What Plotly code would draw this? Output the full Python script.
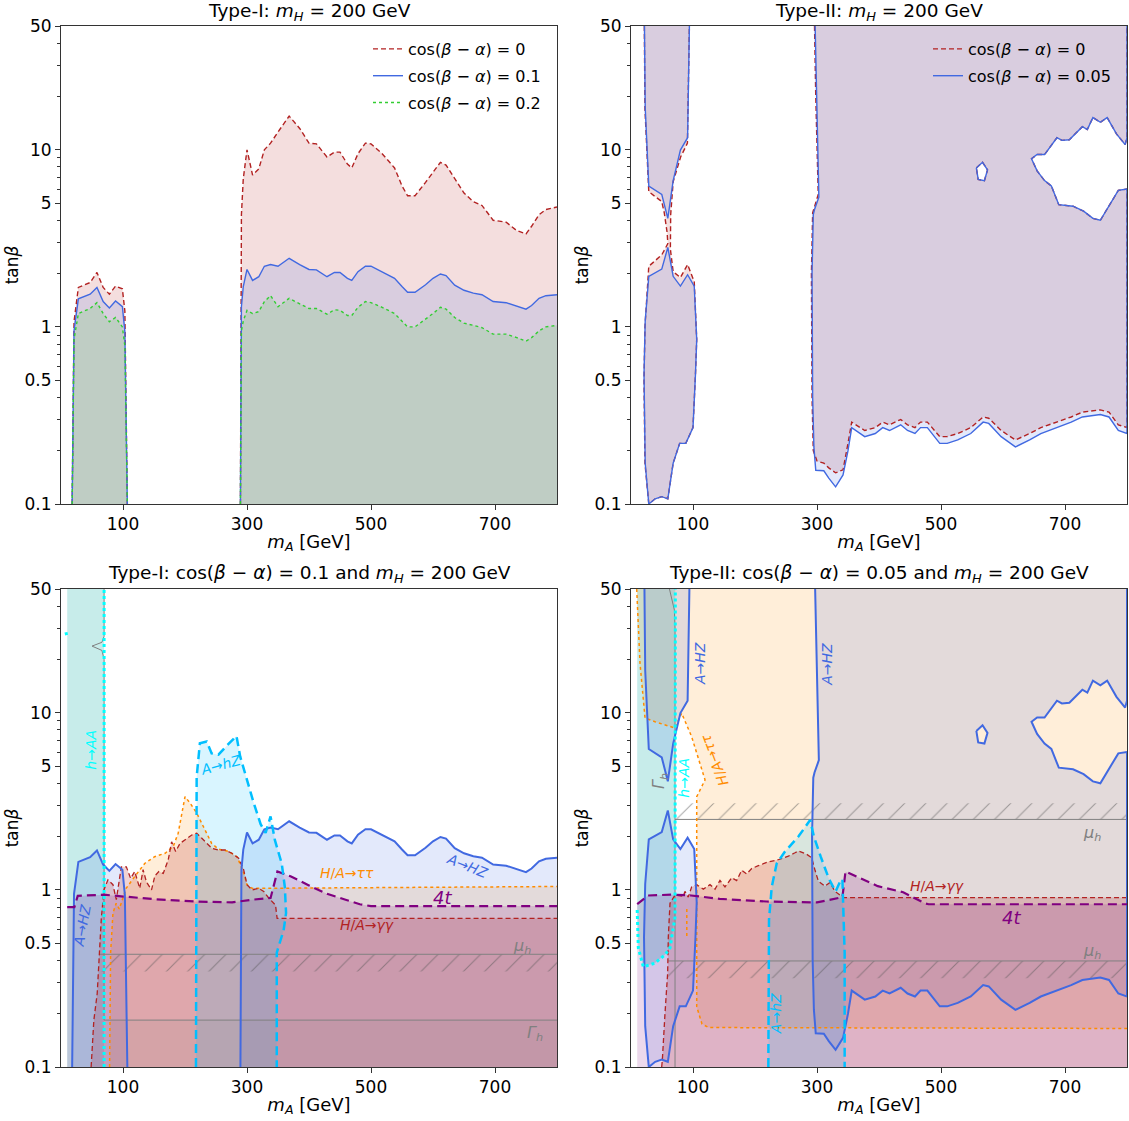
import numpy as np
import plotly.graph_objects as go

# ================= DATA =================
# --- Type-I (top-left): A->HZ limits for cos(b-a) = 0, 0.1, 0.2 ---
mA_I_low = [18, 21, 28, 47, 58, 68, 78, 88, 99, 103, 107]
tb_I_low_c00 = [0.1, 1.07, 1.67, 1.78, 2.03, 1.67, 1.53, 1.70, 1.64, 1.23, 0.1]
tb_I_low_c01 = [0.1, 0.95, 1.44, 1.53, 1.67, 1.39, 1.28, 1.40, 1.30, 0.94, 0.1]
tb_I_low_c02 = [0.1, 0.85, 1.19, 1.27, 1.37, 1.19, 1.07, 1.13, 1.00, 0.78, 0.1]

mA_I_high = [289.4, 291, 294, 300, 309, 319, 328, 338, 350, 368, 385, 400, 412, 429, 441, 450,
             462, 469, 479, 491, 500, 518, 538, 550, 559, 571, 588, 600, 612, 621, 635, 650,
             665, 679, 697, 718, 735, 750, 759, 771, 782, 800]
tb_I_high_c00 = [0.1, 4.3, 6.87, 10.0, 7.2, 7.8, 10.0, 10.9, 12.6, 15.5, 13.2, 10.9, 10.8, 9.1, 9.7, 9.7,
                 8.3, 7.9, 9.5, 10.9, 10.8, 9.5, 7.9, 6.25, 5.5, 5.5, 6.55, 7.5, 8.5, 8.2, 6.9, 5.7,
                 5.1, 4.85, 4.0, 3.9, 3.5, 3.35, 3.7, 4.3, 4.6, 4.75]
tb_I_high_c01 = [0.1, 1.3, 1.69, 2.11, 1.83, 1.92, 2.2, 2.25, 2.2, 2.44, 2.25, 2.11, 2.1, 1.92, 2.03, 2.03,
                 1.88, 1.83, 2.05, 2.2, 2.2, 2.05, 1.88, 1.69, 1.57, 1.57, 1.73, 1.88, 1.99, 1.95, 1.72, 1.61,
                 1.55, 1.52, 1.39, 1.37, 1.31, 1.26, 1.32, 1.45, 1.50, 1.52]
tb_I_high_c02 = [0.1, 0.95, 1.08, 1.24, 1.19, 1.22, 1.39, 1.50, 1.30, 1.45, 1.35, 1.27, 1.27, 1.18, 1.25, 1.24,
                 1.16, 1.16, 1.29, 1.39, 1.37, 1.29, 1.19, 1.08, 1.0, 1.0, 1.10, 1.19, 1.29, 1.26, 1.13, 1.05,
                 1.02, 0.99, 0.91, 0.91, 0.87, 0.83, 0.87, 0.95, 1.0, 1.02]

# --- Type-II (top-right): A->HZ allowed-region boundaries ---
mA_II_up_c005 = [21.7, 22.9, 28.7, 49.6, 59.4, 68.0, 79.7, 91.3, 94.2]
tb_II_up_c005 = [50, 17.4, 6.24, 5.6, 4.1, 6.7, 9.96, 11.7, 50]
mA_II_lo_c005 = [59.4, 49.6, 28.7, 22.9, 21.0, 22.9, 28.7, 39.0, 49.6, 59.4, 68.0, 78.5, 88.4, 100.0,
                 104.0, 106.0, 102.0, 91.3, 79.7, 68.0, 59.4]
tb_II_lo_c005 = [2.81, 2.12, 1.93, 1.08, 0.54, 0.17, 0.1, 0.107, 0.11, 0.107, 0.17, 0.22, 0.22, 0.27,
                 0.54, 0.85, 1.7, 1.97, 1.70, 1.93, 2.81]
mA_II_left_c0 = [21.5, 22.5, 28.7, 49.6, 53.7, 58.3, 59.4, 49.6, 28.7, 22.5, 21.0, 22.5, 28.7, 39.0, 49.6,
                 59.4, 68.0, 78.5, 88.4, 100.0, 104.0, 106.0, 102.0, 91.3, 79.7, 68.0, 63.5, 64.0, 68.0,
                 80.0, 91.0, 94.2]
tb_II_left_c0 = [50, 17.0, 5.8, 5.1, 4.4, 3.4, 2.95, 2.55, 2.2, 1.0, 0.5, 0.17, 0.1, 0.107, 0.11,
                 0.107, 0.17, 0.22, 0.22, 0.27, 0.54, 0.85, 1.8, 2.25, 1.9, 2.05, 2.75, 4.3, 6.6,
                 9.1, 10.9, 50]
mA_II_right_c005 = [297, 299, 303, 296, 294, 292, 292, 293, 295, 298, 311, 319, 330, 342, 350, 356, 377,
                    394, 406, 417, 435, 446, 458, 467, 478, 498, 510, 527, 548, 568, 577, 597, 620, 643,
                    661, 687, 710, 728, 757, 771, 786, 800]
tb_II_right_c005 = [50, 20, 5.4, 4.6, 4.3, 2.0, 0.68, 0.4, 0.21, 0.155, 0.154, 0.14, 0.125, 0.146, 0.2,
                    0.27, 0.24, 0.25, 0.27, 0.26, 0.28, 0.26, 0.25, 0.27, 0.27, 0.22, 0.22, 0.23, 0.25,
                    0.29, 0.285, 0.24, 0.21, 0.23, 0.25, 0.27, 0.29, 0.31, 0.32, 0.31, 0.26, 0.25]
mA_II_right_c0 = [296, 298, 302, 295, 293, 291, 291, 292, 294, 300, 311, 319, 330, 342, 350, 356, 377,
                  394, 406, 417, 435, 446, 458, 467, 478, 498, 510, 527, 548, 568, 577, 597, 620, 643,
                  661, 687, 710, 728, 757, 771, 786, 800]
tb_II_right_c0 = [50, 20, 5.6, 4.7, 4.4, 2.0, 0.68, 0.4, 0.2, 0.175, 0.17, 0.16, 0.15, 0.156, 0.22,
                  0.29, 0.26, 0.27, 0.29, 0.28, 0.30, 0.28, 0.27, 0.29, 0.29, 0.24, 0.24, 0.25, 0.27,
                  0.31, 0.305, 0.26, 0.23, 0.25, 0.27, 0.29, 0.31, 0.33, 0.34, 0.33, 0.28, 0.27]
mA_II_notch = [800, 786, 771, 757, 745, 730, 713, 690, 678, 667, 655, 646, 655, 667, 687, 695, 707,
               728, 736, 745, 757, 768, 783, 797, 800, 800]
tb_II_notch = [6.0, 5.9, 4.8, 4.0, 4.1, 4.5, 4.8, 4.9, 6.25, 6.7, 7.6, 8.9, 9.4, 9.4, 11.7, 11.3, 11.4,
               13.5, 13.0, 15.2, 14.3, 15.2, 12.3, 10.7, 11.7, 50]
mA_II_hole = [557, 567, 575, 570, 560, 557]
tb_II_hole = [7.9, 8.5, 7.7, 6.7, 6.8, 7.9]

# --- Type-I, cos=0.1 (bottom-left): other constraints ---
mA_BL_hAA = [10, 69.5, 69.5, 10]
tb_BL_hAA = [0.1, 0.1, 50, 50]
mA_BL_tautau = [78.4, 80, 83.8, 89, 94, 100, 105, 119, 135, 151, 168, 181, 189, 200, 208, 219, 232,
                243, 254, 270, 284, 295, 300, 308, 800]
tb_BL_tautau = [0.1, 0.44, 0.74, 0.84, 0.78, 0.92, 1.02, 1.19, 1.41, 1.54, 1.61, 1.76, 2.09, 3.36, 3.1,
                2.71, 2.19, 1.83, 1.70, 1.65, 1.54, 1.24, 1.07, 1.02, 1.045]
mA_BL_gaga = [48.6, 53, 58.4, 61, 64.9, 69.2, 75.7, 83.8, 89.2, 97.3, 105.4, 112.4, 118.9, 127, 132.4,
              137.8, 146, 151.4, 157.8, 164.9, 173, 178.4, 184.9, 191.9, 201, 210.8, 218.9, 229.7, 243.2,
              254, 264.9, 275.7, 286.5, 294.6, 300, 308.1, 318.9, 327, 335, 346, 348.6, 800]
tb_BL_gaga = [0.1, 0.184, 0.26, 0.385, 0.68, 1.0, 1.14, 1.07, 0.88, 1.35, 1.35, 1.16, 1.27, 1.02, 1.30,
              1.11, 1.0, 1.2, 1.27, 1.24, 1.48, 1.87, 1.65, 1.83, 1.92, 2.04, 2.09, 1.92, 1.72,
              1.68, 1.68, 1.61, 1.51, 1.30, 1.07, 1.0, 1.02, 0.98, 0.90, 0.82, 0.69, 0.69]
mA_BL_4t = [10, 21.6, 27, 69, 97, 151, 216, 276, 308, 338, 349, 371, 400, 429, 459, 482, 500, 800]
tb_BL_4t = [0.80, 0.80, 0.925, 0.94, 0.92, 0.886, 0.86, 0.85, 0.88, 0.90, 1.27, 1.19, 1.06, 0.95, 0.88,
            0.83, 0.81, 0.81]
mA_BL_AhZ = [217.7, 218.8, 224, 235, 243, 254, 267, 283, 289, 300, 311, 322, 330, 338, 345, 356, 361,
             363, 359, 351, 348, 348]
tb_BL_AhZ = [0.1, 4.35, 6.73, 6.88, 5.9, 5.8, 6.5, 7.4, 5.67, 4.16, 3.08, 2.35, 2.1, 2.6, 1.91, 1.41,
             1.04, 0.74, 0.59, 0.48, 0.44, 0.1]
mA_BL_Gamma = [69.5, 69.5, 66, 50, 66, 69.5, 69.5, 800]
tb_BL_Gamma = [50, 27, 25, 23.8, 22.5, 20, 0.184, 0.184]
mA_BL_muh = [62, 800]
tb_BL_muh_lo, tb_BL_muh_hi = 0.346, 0.433

# --- Type-II, cos=0.05 (bottom-right): other constraints ---
mA_BR_hAA = [10, 10, 11.8, 19.9, 38.7, 54.8, 62.9, 71, 71.5]
tb_BR_hAA = [50, 0.77, 0.47, 0.368, 0.386, 0.43, 0.47, 0.70, 50]
mA_BR_tautau = [9.2, 14.5, 22.6, 38.7, 71, 81.7, 97.8, 119.4, 106, 106, 106, 114.5, 125, 800, 800]
tb_BR_tautau = [50, 19.1, 9.35, 8.9, 8.2, 9.95, 7.33, 4.18, 3.36, 2.29, 0.219, 0.175, 0.167, 0.165, 50]
mA_BR_tautau_frag = [90, 90]
tb_BR_tautau_frag = [0.78, 0.54]
mA_BR_gaga = [49.5, 50.6, 54.8, 59.1, 60.2, 62.9, 71, 84.4, 87, 92.4, 97.8, 105.9, 116.7, 127.4, 135.5,
              143.5, 151.6, 162.4, 170.4, 178.5, 186.6, 194.6, 205.4, 221.5, 237.6, 253.8, 264.5, 269.9,
              283.3, 291.4, 296.8, 302.2, 312.9, 321, 329, 334.4, 342.5, 800]
tb_BR_gaga = [0.1, 0.11, 0.20, 0.338, 0.545, 0.84, 0.936, 0.92, 0.98, 0.91, 1.04, 1.07, 1.01, 1.07, 1.01,
              1.13, 1.04, 1.17, 1.13, 1.29, 1.23, 1.32, 1.37, 1.44, 1.48, 1.55, 1.62, 1.66,
              1.59, 1.52, 1.29, 1.12, 1.05, 1.10, 0.98, 0.95, 0.905, 0.905]
mA_BR_4t = [10, 27.5, 68, 97, 143, 219, 300, 341, 346, 398, 439, 474, 480, 800]
tb_BR_4t = [0.83, 0.93, 0.94, 0.93, 0.89, 0.86, 0.85, 0.91, 1.27, 1.05, 0.97, 0.84, 0.83, 0.83]
mA_BR_AhZ = [221.5, 222.6, 227, 235, 248, 270, 289, 295, 306, 319, 330, 337, 341, 343, 344.6, 344.6]
tb_BR_AhZ = [0.1, 0.68, 1.04, 1.41, 1.64, 2.0, 2.48, 2.0, 1.54, 1.16, 0.98, 1.11, 1.15, 0.68, 0.44, 0.1]
mA_BR_Gamma = [62, 66, 70, 71, 71]
tb_BR_Gamma = [50, 44, 38, 30, 0.1]
mA_BR_muh_lo = [60, 800]
tb_BR_muh_lo = (0.317, 0.397)
mA_BR_muh_hi = [71, 800]
tb_BR_muh_hi = (2.50, 3.08)

# ================= STYLE =================
RED, BLUE, GREEN = '#b22222', '#4169e1', '#32cd32'
ORANGE, PURPLE, SKY, CYAN, GRAY = '#ff8c00', '#800080', '#00bfff', '#00ffff', '#808080'
F_RED = 'rgba(178,34,34,0.15)'
F_BLUE = 'rgba(65,105,225,0.15)'
F_GREEN = 'rgba(50,205,50,0.15)'
F_RED2 = 'rgba(178,34,34,0.20)'
F_ORANGE = 'rgba(255,140,0,0.15)'
F_PURPLE = 'rgba(128,0,128,0.15)'
F_SKY = 'rgba(0,191,255,0.15)'
F_TEAL = 'rgba(32,178,170,0.25)'
F_GRAY = 'rgba(128,128,128,0.10)'
FONT = 'DejaVu Sans'
BASE = 0.1

fig = go.Figure()


def area(m, t):
    lt = np.log10(t)
    return 0.5 * np.sum(np.array(m) * np.roll(lt, -1) - np.roll(m, -1) * lt)


def closed_base(m, t):
    mm = list(m)
    tt = list(t)
    if tt[-1] != BASE:
        mm.append(mm[-1]); tt.append(BASE)
    if tt[0] != BASE:
        mm.insert(0, mm[0]); tt.insert(0, BASE)
    return mm, tt


def fill(m, t, ax, color, holes=None, pattern=None):
    mm, tt = list(m), list(t)
    if holes:
        a0 = area(mm, tt)
        for hm, ht in holes:
            hm, ht = list(hm), list(ht)
            if np.sign(area(hm, ht)) == np.sign(a0):
                hm, ht = hm[::-1], ht[::-1]
            mm += [None] + hm
            tt += [None] + ht
    kw = dict(x=mm, y=tt, mode='lines', fill='toself', fillcolor=color, line=dict(width=0),
              hoverinfo='skip', showlegend=False, xaxis='x' + ax, yaxis='y' + ax)
    if pattern is not None:
        kw['fillpattern'] = pattern
    fig.add_trace(go.Scatter(**kw))


def line(m, t, ax, color, width, dash='solid', name=None, legend=None):
    fig.add_trace(go.Scatter(x=m, y=t, mode='lines', line=dict(color=color, width=width, dash=dash),
                             hoverinfo='skip', showlegend=name is not None, name=name,
                             legend=legend, xaxis='x' + ax, yaxis='y' + ax,
                             legendgroup=name))


def label(ax, m, t, text, color, size=14, angle=0):
    fig.add_annotation(x=m, y=np.log10(t), xref='x' + ax, yref='y' + ax, text=text, showarrow=False,
                       textangle=angle, font=dict(family=FONT, size=size, color=color))


DASH_S = '5px,3px'
DASH_L = '9px,5px'
leg0 = 'cos(<i>β</i> − <i>α</i>) = 0'

# ---------------- TOP-LEFT ----------------
fill(mA_I_low, tb_I_low_c00, '', F_RED)
fill(mA_I_high + [800], tb_I_high_c00 + [BASE], '', F_RED)
fill(mA_I_low, tb_I_low_c01, '', F_BLUE)
fill(mA_I_high + [800], tb_I_high_c01 + [BASE], '', F_BLUE)
fill(mA_I_low, tb_I_low_c02, '', F_GREEN)
fill(mA_I_high + [800], tb_I_high_c02 + [BASE], '', F_GREEN)
line(mA_I_low + [None] + mA_I_high, tb_I_low_c00 + [None] + tb_I_high_c00, '', RED, 1.4, DASH_S,
     name=leg0, legend='legend')
line(mA_I_low + [None] + mA_I_high, tb_I_low_c01 + [None] + tb_I_high_c01, '', BLUE, 1.4,
     name='cos(<i>β</i> − <i>α</i>) = 0.1', legend='legend')
line(mA_I_low + [None] + mA_I_high, tb_I_low_c02 + [None] + tb_I_high_c02, '', GREEN, 1.4, 'dot',
     name='cos(<i>β</i> − <i>α</i>) = 0.2', legend='legend')

# ---------------- TOP-RIGHT ----------------
right_c0_m = mA_II_right_c0 + mA_II_notch
right_c0_t = tb_II_right_c0 + tb_II_notch
right_c5_m = mA_II_right_c005 + mA_II_notch
right_c5_t = tb_II_right_c005 + tb_II_notch
fill(mA_II_left_c0, tb_II_left_c0, '2', F_RED)
fill(right_c0_m, right_c0_t, '2', F_RED, holes=[(mA_II_hole, tb_II_hole)])
fill(mA_II_up_c005, tb_II_up_c005, '2', F_BLUE)
fill(mA_II_lo_c005, tb_II_lo_c005, '2', F_BLUE)
fill(right_c5_m, right_c5_t, '2', F_BLUE, holes=[(mA_II_hole, tb_II_hole)])
line(mA_II_left_c0 + [None] + right_c0_m + [None] + mA_II_hole,
     tb_II_left_c0 + [None] + right_c0_t + [None] + tb_II_hole, '2', RED, 1.4, DASH_S,
     name=leg0, legend='legend2')
line(mA_II_up_c005 + [None] + mA_II_lo_c005 + [None] + right_c5_m + [None] + mA_II_hole,
     tb_II_up_c005 + [None] + tb_II_lo_c005 + [None] + right_c5_t + [None] + tb_II_hole, '2', BLUE, 1.4,
     name='cos(<i>β</i> − <i>α</i>) = 0.05', legend='legend2')

# ---------------- BOTTOM-LEFT ----------------
fill(mA_BL_hAA, tb_BL_hAA, '3', F_TEAL)
fill(*closed_base(mA_BL_tautau, tb_BL_tautau), '3', F_ORANGE)
fill(mA_I_low, tb_I_low_c01, '3', F_BLUE)
fill(mA_I_high + [800], tb_I_high_c01 + [BASE], '3', F_BLUE)
fill(*closed_base(mA_BL_gaga, tb_BL_gaga), '3', F_RED2)
fill(*closed_base(mA_BL_4t, tb_BL_4t), '3', F_PURPLE)
fill(mA_BL_AhZ, tb_BL_AhZ, '3', F_SKY)
fill([69.5, 800, 800, 69.5], [BASE, BASE, 0.184, 0.184], '3', F_GRAY)
hatch = dict(shape='/', fgcolor='#555555', bgcolor='rgba(0,0,0,0)', fillmode='overlay', size=15,
             solidity=0.07)
fill([mA_BL_muh[0], mA_BL_muh[1], mA_BL_muh[1], mA_BL_muh[0]],
     [tb_BL_muh_lo, tb_BL_muh_lo, tb_BL_muh_hi, tb_BL_muh_hi], '3', 'rgba(0,0,0,0)', pattern=hatch)
line(mA_BL_Gamma, tb_BL_Gamma, '3', GRAY, 1)
line(mA_BL_muh, [tb_BL_muh_hi, tb_BL_muh_hi], '3', GRAY, 1)
line(mA_BL_tautau, tb_BL_tautau, '3', ORANGE, 1.5, 'dot')
line(mA_BL_gaga, tb_BL_gaga, '3', RED, 1.3, DASH_S)
line(mA_I_low + [None] + mA_I_high, tb_I_low_c01 + [None] + tb_I_high_c01, '3', BLUE, 2)
line(mA_BL_4t, tb_BL_4t, '3', PURPLE, 2.2, DASH_L)
line(mA_BL_AhZ, tb_BL_AhZ, '3', SKY, 2.5, DASH_L)
line([69.5, 69.5], [BASE, 50], '3', CYAN, 3, 'dot')
line([8, 9.5], [28.5, 27.0], '3', CYAN, 3, 'dot')
label('3', 47, 6.2, '<i>h</i>→<i>AA</i>', CYAN, 14, -90)
label('3', 257, 5.1, '<i>A</i>→<i>hZ</i>', SKY, 14, -15)
label('3', 35, 0.63, '<i>A</i>→<i>HZ</i>', BLUE, 14, -80)
label('3', 656, 1.37, '<i>A</i>→<i>HZ</i>', BLUE, 14, 22)
label('3', 462, 1.25, '<i>H</i>/<i>A</i>→<i>ττ</i>', ORANGE, 14)
label('3', 615, 0.91, '<i>4t</i>', PURPLE, 18)
label('3', 494, 0.63, '<i>H</i>/<i>A</i>→<i>γγ</i>', RED, 14)
label('3', 744, 0.48, '<i>μ<sub>h</sub></i>', GRAY, 16)
label('3', 765, 0.155, '<i>Γ<sub>h</sub></i>', GRAY, 16)

# ---------------- BOTTOM-RIGHT ----------------
fill(mA_BR_hAA, tb_BR_hAA, '4', F_TEAL)
fill(mA_BR_tautau, tb_BR_tautau, '4', F_ORANGE)
fill(mA_II_up_c005, tb_II_up_c005, '4', F_BLUE)
fill(mA_II_lo_c005, tb_II_lo_c005, '4', F_BLUE)
fill(right_c5_m, right_c5_t, '4', F_BLUE, holes=[(mA_II_hole, tb_II_hole)])
fill(*closed_base(mA_BR_gaga, tb_BR_gaga), '4', F_RED2)
fill(*closed_base(mA_BR_4t, tb_BR_4t), '4', F_PURPLE)
fill(mA_BR_AhZ, tb_BR_AhZ, '4', F_SKY)
fill([mA_BR_muh_lo[0], 800, 800, mA_BR_muh_lo[0]],
     [tb_BR_muh_lo[0], tb_BR_muh_lo[0], tb_BR_muh_lo[1], tb_BR_muh_lo[1]], '4', 'rgba(0,0,0,0)', pattern=hatch)
fill([mA_BR_muh_hi[0], 800, 800, mA_BR_muh_hi[0]],
     [tb_BR_muh_hi[0], tb_BR_muh_hi[0], tb_BR_muh_hi[1], tb_BR_muh_hi[1]], '4', 'rgba(0,0,0,0)', pattern=hatch)
line(mA_BR_Gamma, tb_BR_Gamma, '4', GRAY, 1)
line(mA_BR_muh_lo, [tb_BR_muh_lo[1]] * 2, '4', GRAY, 1)
line(mA_BR_muh_hi, [tb_BR_muh_hi[0]] * 2, '4', GRAY, 1)
line(mA_BR_tautau[:-1] + [None] + mA_BR_tautau_frag, tb_BR_tautau[:-1] + [None] + tb_BR_tautau_frag,
     '4', ORANGE, 1.5, 'dot')
line(mA_BR_gaga, tb_BR_gaga, '4', RED, 1.3, DASH_S)
line(mA_II_up_c005 + [None] + mA_II_lo_c005 + [None] + right_c5_m + [None] + mA_II_hole,
     tb_II_up_c005 + [None] + tb_II_lo_c005 + [None] + right_c5_t + [None] + tb_II_hole, '4', BLUE, 2)
line(mA_BR_4t, tb_BR_4t, '4', PURPLE, 2.2, DASH_L)
line(mA_BR_AhZ, tb_BR_AhZ, '4', SKY, 2.5, DASH_L)
line(mA_BR_hAA[1:], tb_BR_hAA[1:], '4', CYAN, 3, 'dot')
label('4', 111.6, 18.9, '<i>A</i>→<i>HZ</i>', BLUE, 14, -90)
label('4', 316, 18.9, '<i>A</i>→<i>HZ</i>', BLUE, 14, -90)
label('4', 135, 5.4, '<i>H</i>/<i>A</i>→<i>ττ</i>', ORANGE, 14, -111)
label('4', 85.5, 4.3, '<i>h</i>→<i>AA</i>', CYAN, 14, -90)
label('4', 46, 4.1, '<i>Γ<sub>h</sub></i>', GRAY, 16, -90)
label('4', 743, 2.07, '<i>μ<sub>h</sub></i>', GRAY, 16)
label('4', 494, 1.05, '<i>H</i>/<i>A</i>→<i>γγ</i>', RED, 14)
label('4', 613, 0.70, '<i>4t</i>', PURPLE, 18)
label('4', 743, 0.45, '<i>μ<sub>h</sub></i>', GRAY, 16)
label('4', 233, 0.2, '<i>A</i>→<i>hZ</i>', SKY, 14, -90)

# ================= LAYOUT =================
W, H = 1129, 1121
xdom = [[61 / W, 557 / W], [631 / W, 1127 / W]]
ydom = [[1 - 504 / H, 1 - 26 / H], [1 - 1067 / H, 1 - 589 / H]]
minor_vals = [0.2, 0.3, 0.4, 0.6, 0.7, 0.8, 0.9, 2, 3, 4, 6, 7, 8, 9, 20, 30, 40]
axis_common = dict(showline=True, mirror=True, linecolor='#333333', linewidth=1, showgrid=False,
                   zeroline=False, ticks='outside', ticklen=5, tickwidth=1, tickcolor='#333333',
                   automargin=False, tickfont=dict(family=FONT, size=17, color='black'))
layout_axes = {}
for i, (xi, yi) in enumerate([(0, 0), (1, 0), (0, 1), (1, 1)]):
    sfx = '' if i == 0 else str(i + 1)
    layout_axes['xaxis' + sfx] = dict(axis_common, domain=xdom[xi], range=[0, 800], tickvals=[100, 300, 500, 700],
                                      anchor='y' + sfx,
                                      title=dict(text='<i>m<sub>A</sub></i> [GeV]', standoff=1,
                                                 font=dict(family=FONT, size=18, color='black')))
    layout_axes['yaxis' + sfx] = dict(axis_common, domain=ydom[yi], type='log', range=[-1, np.log10(50)],
                                      tickvals=[0.1, 0.5, 1, 5, 10, 50],
                                      ticktext=['0.1', '0.5', '1', '5', '10', '50'],
                                      minor=dict(tickvals=minor_vals, ticks='outside', ticklen=3,
                                                 tickcolor='#333333'),
                                      anchor='x' + sfx,
                                      title=dict(text='tan<i>β</i>', standoff=1,
                                                 font=dict(family=FONT, size=17, color='black')))

fig.update_layout(
    width=W, height=H, autosize=False, margin=dict(l=0, r=0, t=0, b=0, pad=0, autoexpand=False),
    paper_bgcolor='white', plot_bgcolor='white',
    font=dict(family=FONT, size=16, color='black'),
    legend=dict(x=546 / W, y=1 - 32 / H, xanchor='right', yanchor='top', bgcolor='rgba(255,255,255,0)',
                font=dict(family=FONT, size=16), tracegroupgap=3, traceorder='grouped'),
    legend2=dict(x=1116 / W, y=1 - 32 / H, xanchor='right', yanchor='top', bgcolor='rgba(255,255,255,0)',
                 font=dict(family=FONT, size=16), tracegroupgap=3, traceorder='grouped'),
    **layout_axes,
)

titles = [
    ((61 + 557) / 2 / W, 1 - 12 / H, 'Type-I: <i>m<sub>H</sub></i> = 200 GeV'),
    ((631 + 1127) / 2 / W, 1 - 12 / H, 'Type-II: <i>m<sub>H</sub></i> = 200 GeV'),
    ((61 + 557) / 2 / W, 1 - 574 / H, 'Type-I: cos(<i>β</i> − <i>α</i>) = 0.1 and <i>m<sub>H</sub></i> = 200 GeV'),
    ((631 + 1127) / 2 / W, 1 - 574 / H, 'Type-II: cos(<i>β</i> − <i>α</i>) = 0.05 and <i>m<sub>H</sub></i> = 200 GeV'),
]
for x, y, txt in titles:
    fig.add_annotation(x=x, y=y, xref='paper', yref='paper', text=txt, showarrow=False,
                       xanchor='center', yanchor='middle', font=dict(family=FONT, size=18.5, color='black'))

fig.write_html('out.html', config={'displayModeBar': False},
               post_script="document.body.style.margin='0px';document.body.style.padding='0px';"
                           "document.body.style.overflow='hidden';")
